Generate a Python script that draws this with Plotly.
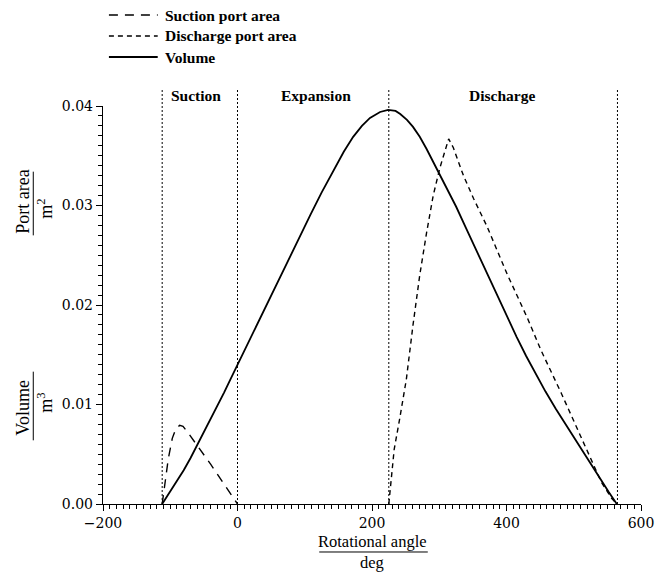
import plotly.graph_objects as go

# ---- data ----
vol_x = [-112, -100, -90, -80, -70, -60, -50, -40, -30, -20, -10, 0, 30, 60, 90, 108,
         125, 143, 158, 172, 185, 197, 212, 224, 235, 242, 252, 261, 271, 281, 291, 301,
         313, 325, 340, 355, 375, 400, 415, 429, 444, 458, 473, 488, 513, 538, 552, 564]
vol_y = [0.0, 0.00124, 0.0023, 0.0034, 0.0046, 0.0059, 0.0072, 0.0085, 0.0098, 0.0112,
         0.0126, 0.0140, 0.0182, 0.0224, 0.0265, 0.0290, 0.0313, 0.0336, 0.0354, 0.0369,
         0.0380, 0.0388, 0.0394, 0.0396, 0.0395, 0.0392, 0.0386, 0.0379, 0.0369, 0.0357,
         0.0344, 0.0331, 0.0315, 0.0299, 0.0277, 0.0255, 0.0225, 0.0189, 0.0168, 0.0149,
         0.0130, 0.0113, 0.0096, 0.0080, 0.0053, 0.0026, 0.0012, 0.0]

suc_x = [-112, -108, -103, -97, -92, -86, -81, -74, -60, -40, -20, 0]
suc_y = [0.0, 0.0020, 0.0045, 0.0066, 0.0075, 0.0079, 0.0078, 0.0072, 0.0059, 0.0040,
         0.0020, 0.0]

dis_x = [225, 229, 233, 241, 251, 261, 271, 281, 291, 301, 309, 314, 321, 336, 351, 371,
         386, 401, 431, 451, 481, 501, 521, 541, 556, 564]
dis_y = [0.0, 0.0030, 0.0055, 0.0085, 0.0125, 0.0180, 0.0230, 0.0272, 0.0310, 0.0338,
         0.0357, 0.0367, 0.0358, 0.0330, 0.0307, 0.0279, 0.0255, 0.0231, 0.0187, 0.0155,
         0.0112, 0.0082, 0.0051, 0.0022, 0.0006, 0.0]

series_names = ["Suction port area", "Discharge port area", "Volume"]
series_dash = ["9px,7px", "5px,4px", "solid"]

phase_bounds = [-112, 0, 225, 565]
phase_names = ["Suction", "Expansion", "Discharge"]
phase_label_x = [-61, 116, 394]

FONT = "Liberation Serif"
TICKFONT = "DejaVu Serif"

fig = go.Figure()
fig.add_trace(go.Scatter(x=suc_x, y=suc_y, mode="lines", name=series_names[0],
                         line=dict(color="black", width=1.4, dash=series_dash[0])))
fig.add_trace(go.Scatter(x=dis_x, y=dis_y, mode="lines", name=series_names[1],
                         line=dict(color="black", width=1.4, dash=series_dash[1])))
fig.add_trace(go.Scatter(x=vol_x, y=vol_y, mode="lines", name=series_names[2],
                         line=dict(color="black", width=1.8)))

shapes = []
for xb in phase_bounds:
    shapes.append(dict(type="line", xref="x", yref="paper", x0=xb, x1=xb, y0=0, y1=1.045,
                       line=dict(color="black", width=1, dash="2px,2px"), layer="below"))
# fraction bars of axis titles
shapes.append(dict(type="line", xref="paper", yref="paper", x0=0.4019, x1=0.6037,
                   y0=-0.1206, y1=-0.1206, line=dict(color="black", width=1)))
shapes.append(dict(type="line", xref="paper", yref="y", x0=-0.1296, x1=-0.1296,
                   y0=0.0270, y1=0.0334, line=dict(color="black", width=1)))
shapes.append(dict(type="line", xref="paper", yref="y", x0=-0.1296, x1=-0.1296,
                   y0=0.0064, y1=0.0133, line=dict(color="black", width=1)))

annotations = []
# legend (key lines + labels above the plot)
leg_y = [1.2286, 1.1759, 1.1231]
for name, dash, ly in zip(series_names, series_dash, leg_y):
    shapes.append(dict(type="line", xref="paper", yref="paper", x0=0.011, x1=0.1017,
                       y0=ly, y1=ly,
                       line=dict(color="black", width=1.4 if dash != "solid" else 1.8,
                                 dash=dash)))
    annotations.append(dict(text="<b>" + name + "</b>", x=0.1118, y=ly, xref="paper",
                            yref="paper", xanchor="left", yanchor="middle",
                            showarrow=False, font=dict(family=FONT, size=15.5, color="black")))

for name, lx in zip(phase_names, phase_label_x):
    annotations.append(dict(text="<b>" + name + "</b>", x=lx, y=1.0276, xref="x", yref="paper",
                            xanchor="center", yanchor="middle", showarrow=False,
                            font=dict(family=FONT, size=15.5, color="black")))

def title_ann(text, x, y, xref, yref, size, angle=0):
    return dict(text=text, x=x, y=y, xref=xref, yref=yref, textangle=angle,
                xanchor="center", yanchor="middle", showarrow=False,
                font=dict(family=FONT, size=size, color="black"))

annotations += [
    title_ann("Rotational angle", 0.5, -0.093, "paper", "paper", 16.5),
    title_ann("deg", 0.5, -0.148, "paper", "paper", 16.5),
    title_ann("Port area", -0.1493, 0.03035, "paper", "y", 18, -90),
    title_ann("m<sup>2</sup>", -0.1074, 0.0297, "paper", "y", 18, -90),
    title_ann("Volume", -0.1493, 0.00965, "paper", "y", 18, -90),
    title_ann("m<sup>3</sup>", -0.1074, 0.0102, "paper", "y", 18, -90),
]

fig.update_layout(
    width=666, height=576,
    margin=dict(l=103, r=15, t=106, b=72),
    paper_bgcolor="white", plot_bgcolor="white",
    font=dict(family=FONT, color="black"),
    showlegend=False,
    shapes=shapes, annotations=annotations,
)
fig.update_xaxes(range=[-200, 600], tickmode="linear", tick0=0, dtick=200,
                 ticks="outside", ticklen=6, tickwidth=1.2, tickcolor="black",
                 showline=True, linecolor="black", linewidth=1.4, showgrid=False,
                 zeroline=False,
                 tickfont=dict(family=TICKFONT, size=14, color="black"),
                 minor=dict(dtick=10, ticks="outside", ticklen=3.5, tickcolor="black",
                            tickwidth=1, showgrid=False))
fig.update_yaxes(range=[0, 0.04], tickmode="linear", tick0=0, dtick=0.01,
                 tickformat=".2f", ticks="outside", ticklen=6, tickwidth=1.2,
                 tickcolor="black", showline=True, linecolor="black", linewidth=1.4,
                 showgrid=False, zeroline=False,
                 tickfont=dict(family=TICKFONT, size=14, color="black"),
                 minor=dict(dtick=0.001, ticks="outside", ticklen=3.5, tickcolor="black",
                            tickwidth=1, showgrid=False))

# remove the browser's default 8px body margin so the figure starts at the window corner
fig.write_html("out.html", config={"displayModeBar": False},
               post_script="document.body.style.margin='0px';")
